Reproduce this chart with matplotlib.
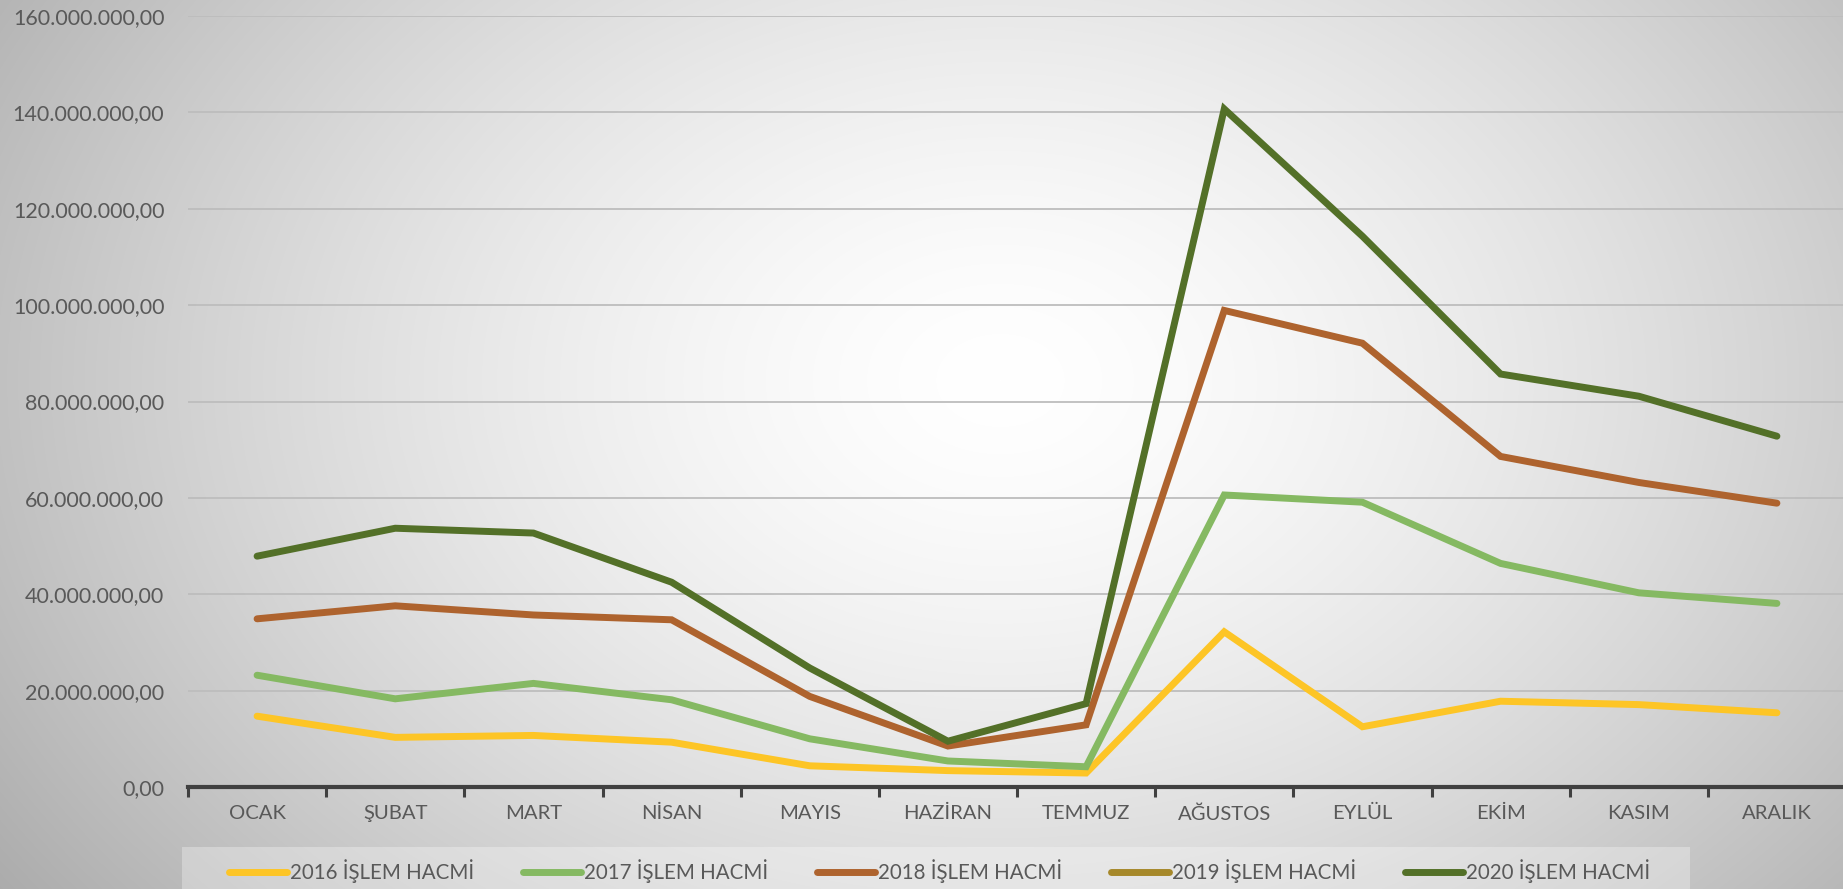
import numpy as np
import matplotlib
matplotlib.use("Agg")
import matplotlib.pyplot as plt
from matplotlib.patches import Rectangle
from matplotlib.ticker import FuncFormatter, MultipleLocator

# ── Veriler ──────────────────────────────────────────────────────
AYLAR = ["OCAK", "ŞUBAT", "MART", "NİSAN", "MAYIS", "HAZİRAN",
         "TEMMUZ", "AĞUSTOS", "EYLÜL", "EKİM", "KASIM", "ARALIK"]

hacim_2016 = [14.7e6, 10.3e6, 10.7e6, 9.3e6, 4.4e6, 3.4e6,
              2.9e6, 32.2e6, 12.5e6, 17.8e6, 17.1e6, 15.4e6]
hacim_2017 = [23.2e6, 18.3e6, 21.5e6, 18.1e6, 10.0e6, 5.4e6,
              4.2e6, 60.6e6, 59.1e6, 46.4e6, 40.3e6, 38.1e6]
hacim_2018 = [34.9e6, 37.6e6, 35.7e6, 34.7e6, 18.8e6, 8.5e6,
              12.9e6, 98.9e6, 92.1e6, 68.6e6, 63.2e6, 58.9e6]
hacim_2019 = [None] * 12   # veri yok, sadece lejantta
hacim_2020 = [47.9e6, 53.7e6, 52.7e6, 42.5e6, 24.7e6, 9.5e6,
              17.3e6, 140.7e6, 114.3e6, 85.7e6, 81.1e6, 72.8e6]

SERILER = [
    ("2016 İŞLEM HACMİ", hacim_2016, "#FDC526"),
    ("2017 İŞLEM HACMİ", hacim_2017, "#85B962"),
    ("2018 İŞLEM HACMİ", hacim_2018, "#AE632E"),
    ("2019 İŞLEM HACMİ", hacim_2019, "#A6882A"),
    ("2020 İŞLEM HACMİ", hacim_2020, "#537028"),
]

plt.rcParams["font.family"] = ["Lato", "DejaVu Sans"]
TXT = "#595959"

W, H = 1843, 889
fig = plt.figure(figsize=(W / 100, H / 100), dpi=100)

# ── Arka plan: radyal gri geçiş ──────────────────────────────────
bg = fig.add_axes([0, 0, 1, 1], zorder=-10)
yy, xx = np.mgrid[0:H, 0:W]
r = np.sqrt(((xx - 1000) / 1050.0) ** 2 + ((yy - 380) / 760.0) ** 2)
gri = 1.0 - 0.26 * np.clip(r, 0, 1.3) ** 1.5
bg.imshow(np.dstack([gri, gri, gri]), aspect="auto", extent=[0, 1, 0, 1])
bg.axis("off")

# ── Grafik ───────────────────────────────────────────────────────
ax = fig.add_axes([188 / W, 102 / H, 1658 / W, 771 / H])
ax.set_facecolor("none")

x = np.arange(len(AYLAR))
for etiket, degerler, renk in SERILER:
    y = np.array([np.nan if v is None else v for v in degerler], dtype=float)
    ax.plot(x, y, color=renk, lw=5, label=etiket,
            solid_capstyle="round", solid_joinstyle="miter", zorder=3)

ax.set_xlim(-0.5, len(AYLAR) - 0.5)
ax.set_ylim(0, 160e6)
ax.yaxis.set_major_locator(MultipleLocator(20e6))

def tr_format(v, pos):
    s = f"{v:,.2f}"
    return s.replace(",", "X").replace(".", ",").replace("X", ".")

ax.yaxis.set_major_formatter(FuncFormatter(tr_format))
ax.grid(axis="y", color="#BDBDBD", lw=1.3, zorder=1)
ax.set_axisbelow(True)

ax.set_xticks(x)
ax.set_xticklabels(AYLAR)
ax.set_xticks(np.arange(-0.5, len(AYLAR)), minor=True)
ax.tick_params(axis="x", which="major", length=0, pad=13,
               labelsize=14.6, labelcolor=TXT)
ax.tick_params(axis="x", which="minor", length=7, width=2.2, color="#404040")
ax.tick_params(axis="y", length=0, pad=17, labelsize=15.5, labelcolor=TXT)

for s in ["top", "right", "left"]:
    ax.spines[s].set_visible(False)
ax.spines["bottom"].set_color("#404040")
ax.spines["bottom"].set_linewidth(3)
ax.spines["bottom"].set_zorder(4)

# ── Lejant ───────────────────────────────────────────────────────
fig.patches.append(Rectangle((182 / W, 0), (1690 - 182) / W, 1 - 847 / H,
                             transform=fig.transFigure, facecolor="white",
                             alpha=0.3, edgecolor="none", zorder=0))
fig.legend(loc="center left", bbox_to_anchor=(229 / W, 1 - 871 / H),
           ncol=5, frameon=False, fontsize=14.8, handlelength=2.8,
           handletextpad=0.15, columnspacing=2.4, borderpad=0,
           borderaxespad=0, labelcolor=TXT)

fig.savefig("out.png", dpi=100)
